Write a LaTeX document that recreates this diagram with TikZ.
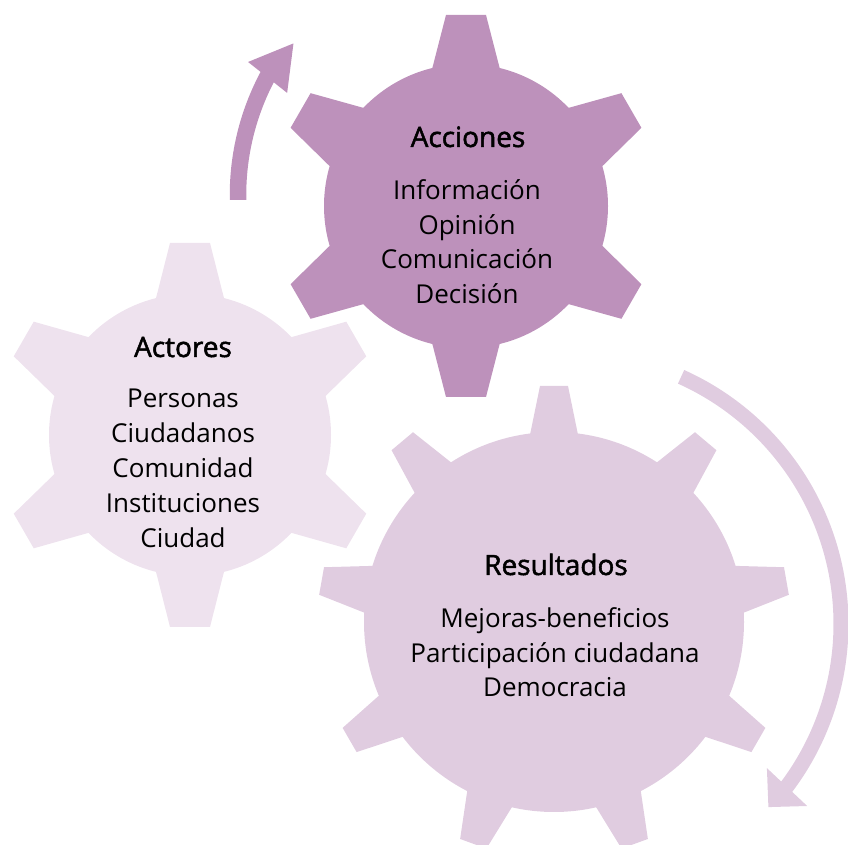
\documentclass[tikz,border=0pt]{standalone}
\usepackage{fontspec}
\setmainfont{Open Sans}
\newfontfamily\headfont[FakeBold=1.8]{Open Sans}
\definecolor{accC}{HTML}{BD91BB}
\definecolor{actC}{HTML}{EEE2EE}
\definecolor{resC}{HTML}{E0CCE0}
\tikzset{
  lst/.style={anchor=base, inner sep=0pt, font=\fontsize{26}{30}\selectfont},
  hd/.style={anchor=base, inner sep=0pt, font=\fontsize{28}{32}\selectfont\headfont},
}
\begin{document}
\begin{tikzpicture}[x=1pt,y=1pt]
\useasboundingbox (0,0) rectangle (848,845);
\clip (0,0) rectangle (848,845);
\coordinate (actc) at (190,410);
\coordinate (accc) at (466,639);
\coordinate (resc) at (554,223);
\coordinate (arrA) at (491,650);
\coordinate (arrB) at (570,221);
% Actores gear
\begin{scope}[shift={(actc)}]
  \fill[actC] (0,0) circle[radius=141pt];
  \foreach \a in {30,90,...,330}
    \fill[actC,rotate=\a] (125,-37) -- (192,-20) -- (192,20) -- (125,37) -- cycle;
\end{scope}
% Resultados gear
\begin{scope}[shift={(resc)}]
  \fill[resC] (0,0) circle[radius=190pt];
  \foreach \a in {10,50,...,330}
    \fill[resC,rotate=\a] (175,-26.5) -- (236,-14) -- (236,14) -- (175,26.5) -- cycle;
\end{scope}
% Acciones gear
\begin{scope}[shift={(accc)}]
  \fill[accC] (0,0) circle[radius=142pt];
  \foreach \a in {30,90,...,330}
    \fill[accC,rotate=\a] (125,-37) -- (191,-20) -- (191,20) -- (125,37) -- cycle;
\end{scope}
% top arrow
\begin{scope}[shift={(arrA)}]
  \draw[accC, line width=16.5pt] (181.1:253) arc[start angle=181.1, end angle=151.5, radius=253pt];
  \fill[accC] (151.3:277) -- (142.5:249) -- (153.4:228) -- cycle;
\end{scope}
% right arrow
\begin{scope}[shift={(arrB)}]
  \draw[resC, line width=15pt] (65.8:271) arc[start angle=65.8, end angle=-37.3, radius=271pt];
  \fill[resC] (-36.2:244) -- (-42.7:270) -- (-37.5:299) -- cycle;
\end{scope}
% texts
\node[hd]  (acch) at (468,698) {Acciones};
\node[lst] (acc1) at (467,645) {Información};
\node[lst] (acc2) at (467,610.5) {Opinión};
\node[lst] (acc3) at (467,576) {Comunicación};
\node[lst] (acc4) at (467,541.5) {Decisión};
\node[hd]  (acth) at (183,488) {Actores};
\node[lst] (act1) at (183,437) {Personas};
\node[lst] (act2) at (183,402.2) {Ciudadanos};
\node[lst] (act3) at (183,367.4) {Comunidad};
\node[lst] (act4) at (183,332.6) {Instituciones};
\node[lst] (act5) at (183,297.8) {Ciudad};
\node[hd]  (resh) at (556,270) {Resultados};
\node[lst] (res1) at (555,217) {Mejoras-beneficios};
\node[lst] (res2) at (555,182.5) {Participación ciudadana};
\node[lst] (res3) at (555,148) {Democracia};
\end{tikzpicture}
\end{document}
